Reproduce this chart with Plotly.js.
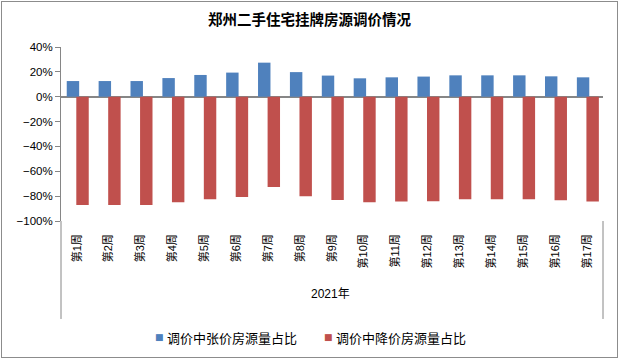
<!DOCTYPE html>
<html>
<head>
<meta charset="utf-8">
<script src="https://cdn.plot.ly/plotly-3.0.1.min.js"></script>
<style>
html,body{margin:0;padding:0;background:#fff;}
#wrap{position:relative;width:619px;height:360px;}
#frame{position:absolute;left:1px;top:1px;width:615px;height:355px;border:1px solid #8c8c8c;pointer-events:none;}
#chart{position:absolute;left:0;top:0;width:619px;height:360px;}
</style>
</head>
<body>
<div id="wrap"><div id="chart"></div><div id="frame"></div></div>
<script>
const weeks = ["第1周","第2周","第3周","第4周","第5周","第6周","第7周","第8周","第9周","第10周","第11周","第12周","第13周","第14周","第15周","第16周","第17周"];
const riseShare = [0.126,0.126,0.126,0.150,0.175,0.194,0.274,0.198,0.170,0.148,0.156,0.162,0.172,0.172,0.172,0.164,0.156];
const fallShare = [-0.871,-0.871,-0.871,-0.850,-0.825,-0.806,-0.726,-0.800,-0.832,-0.850,-0.843,-0.841,-0.826,-0.826,-0.826,-0.834,-0.843];
const seriesNames = ["调价中张价房源量占比","调价中降价房源量占比"];
const seriesColors = ['#4F81BD','#C0504D'];
const yearLabel = "2021年";
const titleText = "郑州二手住宅挂牌房源调价情况";

const gray = '#868686';
const cjkFont = '"Noto Sans CJK SC", sans-serif';

const traces = [
  {type:'bar', name:seriesNames[0], x:weeks, y:riseShare, marker:{color:seriesColors[0]}, width:0.39, offset:-0.32, hoverinfo:'skip', showlegend:false},
  {type:'bar', name:seriesNames[1], x:weeks, y:fallShare, marker:{color:seriesColors[1]}, width:0.39, offset:-0.02, hoverinfo:'skip', showlegend:false}
];

// manual legend (Excel-like compact)
const legY = -0.667;
const legendAnn = [];
const legX = [0.181, 0.493];
seriesNames.forEach((n,i)=>{
  legendAnn.push({text:'■', xref:'paper', yref:'paper', x:legX[i], y:legY, xanchor:'center', yanchor:'middle', showarrow:false,
                  font:{size:9, color:seriesColors[i], family:'"DejaVu Sans", sans-serif'}});
  legendAnn.push({text:n, xref:'paper', yref:'paper', x:legX[i]+0.0115, y:legY, xanchor:'left', yanchor:'middle', showarrow:false,
                  font:{size:13, color:'#000', family:cjkFont}});
});

const layout = {
  width:619, height:360,
  margin:{l:61, r:16, t:47, b:139},
  paper_bgcolor:'rgba(0,0,0,0)', plot_bgcolor:'rgba(0,0,0,0)',
  barmode:'overlay',
  showlegend:false,
  title:{text:'<b>'+titleText+'</b>', x:0.5, xanchor:'center', y:0.944, yanchor:'middle', yref:'container',
         font:{family:cjkFont, size:14.5, color:'#000'}},
  font:{family:'"Liberation Sans", Arial, sans-serif', color:'#000'},
  xaxis:{type:'category', tickangle:-90, showline:false, showgrid:false, zeroline:false, ticks:'',
         tickfont:{size:11, family:'"Liberation Sans", "Noto Sans CJK SC", sans-serif'}, ticklabelstandoff:10, fixedrange:true},
  yaxis:{range:[-1,0.4], dtick:0.2, tickformat:'.0%', showgrid:false, showline:true, linecolor:gray, linewidth:1,
         ticks:'outside', ticklen:5, tickcolor:gray, zeroline:true, zerolinecolor:gray, zerolinewidth:2,
         tickfont:{size:11.5, family:'"Liberation Sans", Arial, sans-serif'}, fixedrange:true},
  annotations:[{text:yearLabel, xref:'paper', yref:'paper', x:0.498, y:-0.471, showarrow:false,
                font:{size:12, family:'"Liberation Sans", "Noto Sans CJK SC", sans-serif'}}].concat(legendAnn),
  shapes:[
    {type:'line', xref:'paper', yref:'paper', x0:0, x1:0, y0:0, y1:-0.563, line:{color:gray, width:1}},
    {type:'line', xref:'paper', yref:'paper', x0:1, x1:1, y0:0, y1:-0.563, line:{color:gray, width:1}}
  ]
};

Plotly.newPlot('chart', traces, layout, {staticPlot:true, displayModeBar:false});
</script>
</body>
</html>
